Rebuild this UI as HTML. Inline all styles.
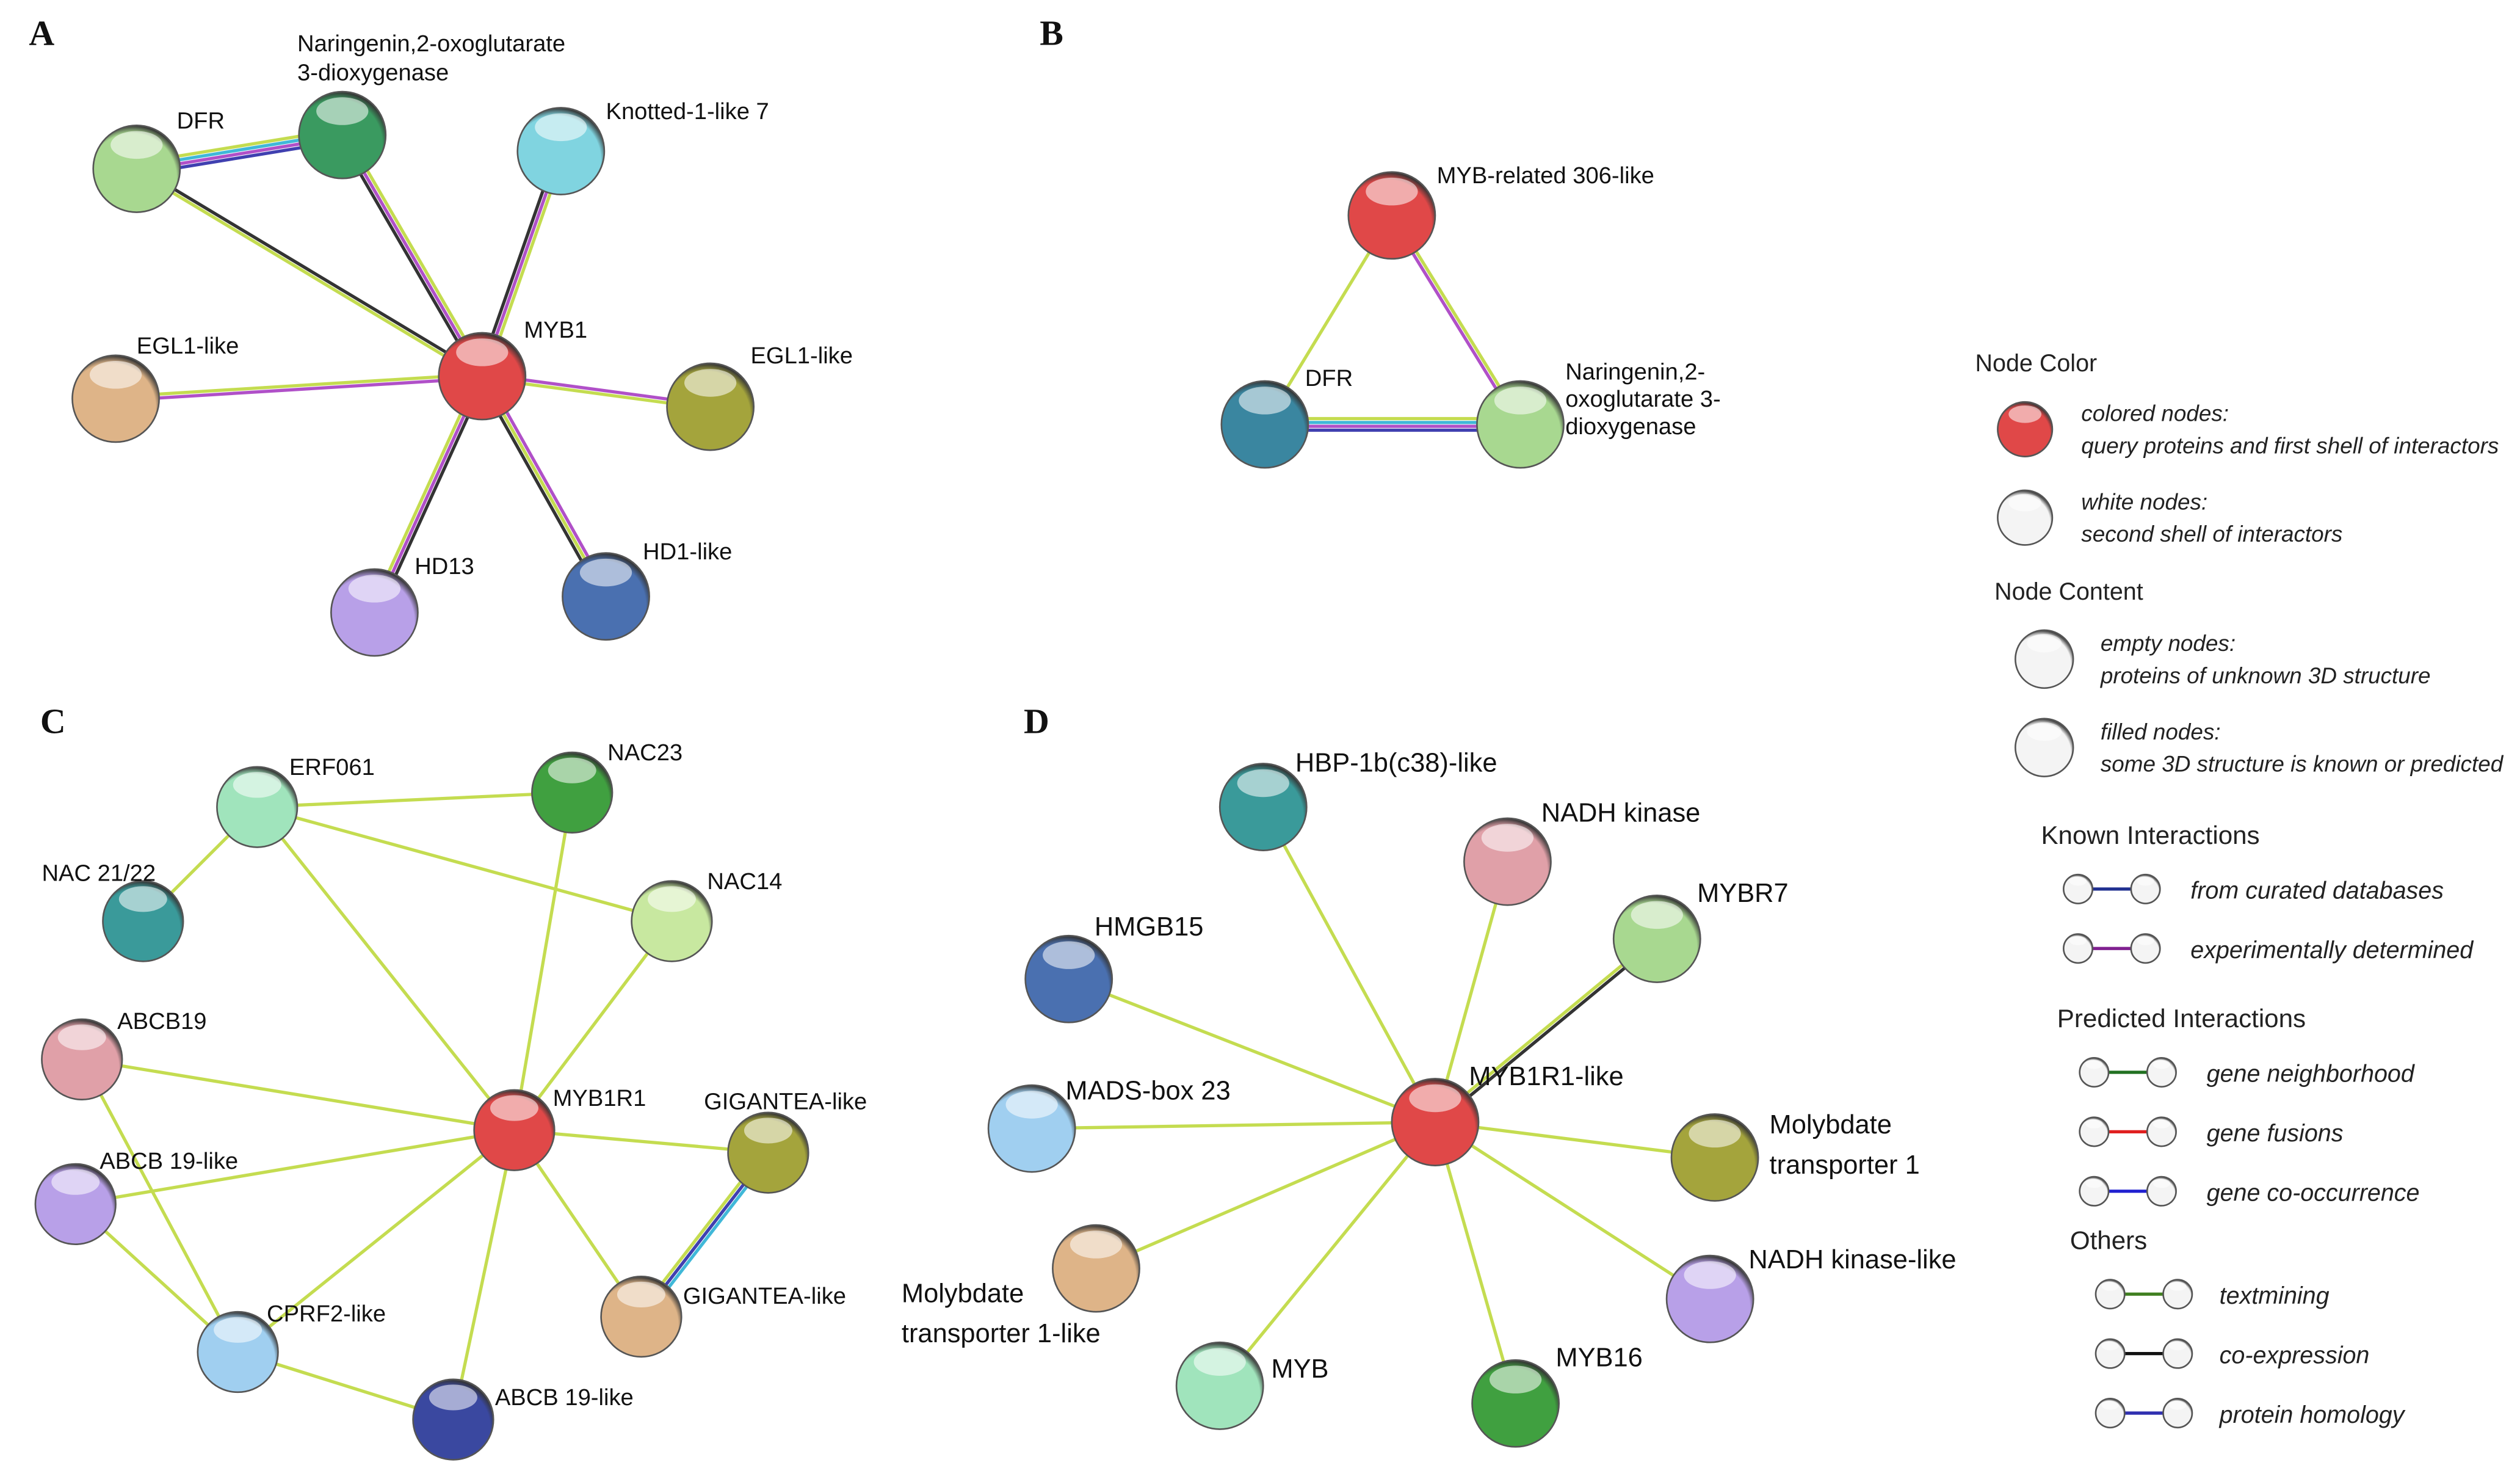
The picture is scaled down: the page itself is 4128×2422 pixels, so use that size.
<!DOCTYPE html>
<html><head><meta charset="utf-8"><style>
html,body{margin:0;padding:0;background:#fff;}
svg{display:block;}
text{font-family:"Liberation Sans",Arial,sans-serif;fill:#111;}
.L{font-family:"Liberation Serif",serif;font-weight:bold;font-size:22px;}
.n{font-size:14.5px;}
.nd{font-size:16.5px;}
.lg{font-size:14px;font-style:italic;fill:#222;}
.lh{font-size:15px;fill:#222;}
</style></head><body>
<svg id="s" width="4128" height="2422" viewBox="0 0 1568 920" preserveAspectRatio="none" xmlns="http://www.w3.org/2000/svg">
<defs id="d"></defs>
<g id="e"></g>
<g id="nodes"></g>
<text class="L" x="18" y="28">A</text>
<text class="L" x="647" y="28">B</text>
<text class="L" x="25" y="456">C</text>
<text class="L" x="637" y="456">D</text>
<text class="n" x="185" y="32">Naringenin,2-oxoglutarate</text>
<text class="n" x="185" y="50">3-dioxygenase</text>
<text class="n" x="110" y="80">DFR</text>
<text class="n" x="377" y="74">Knotted-1-like 7</text>
<text class="n" x="326" y="210">MYB1</text>
<text class="n" x="85" y="220">EGL1-like</text>
<text class="n" x="467" y="226">EGL1-like</text>
<text class="n" x="258" y="357">HD13</text>
<text class="n" x="400" y="348">HD1-like</text>
<text class="n" x="894" y="114">MYB-related 306-like</text>
<text class="n" x="812" y="240">DFR</text>
<text class="n" x="974" y="236">Naringenin,2-</text>
<text class="n" x="974" y="253">oxoglutarate 3-</text>
<text class="n" x="974" y="270">dioxygenase</text>
<text class="n" x="180" y="482">ERF061</text>
<text class="n" x="378" y="473">NAC23</text>
<text class="n" x="26" y="548">NAC 21/22</text>
<text class="n" x="440" y="553">NAC14</text>
<text class="n" x="73" y="640">ABCB19</text>
<text class="n" x="344" y="688">MYB1R1</text>
<text class="n" x="438" y="690">GIGANTEA-like</text>
<text class="n" x="62" y="727">ABCB 19-like</text>
<text class="n" x="166" y="822">CPRF2-like</text>
<text class="n" x="425" y="811">GIGANTEA-like</text>
<text class="n" x="308" y="874">ABCB 19-like</text>
<text class="nd" x="806" y="480">HBP-1b(c38)-like</text>
<text class="nd" x="959" y="511">NADH kinase</text>
<text class="nd" x="1056" y="561">MYBR7</text>
<text class="nd" x="681" y="582">HMGB15</text>
<text class="nd" x="663" y="684">MADS-box 23</text>
<text class="nd" x="914" y="675">MYB1R1-like</text>
<text class="nd" x="1101" y="705">Molybdate</text>
<text class="nd" x="1101" y="730">transporter 1</text>
<text class="nd" x="561" y="810">Molybdate</text>
<text class="nd" x="561" y="835">transporter 1-like</text>
<text class="nd" x="1088" y="789">NADH kinase-like</text>
<text class="nd" x="791" y="857">MYB</text>
<text class="nd" x="968" y="850">MYB16</text>
<text class="lh" x="1229" y="231">Node Color</text>
<text class="lg" x="1295" y="262">colored nodes:</text>
<text class="lg" x="1295" y="282">query proteins and first shell of interactors</text>
<text class="lg" x="1295" y="317">white nodes:</text>
<text class="lg" x="1295" y="337">second shell of interactors</text>
<text class="lh" x="1241" y="373">Node Content</text>
<text class="lg" x="1307" y="405">empty nodes:</text>
<text class="lg" x="1307" y="425">proteins of unknown 3D structure</text>
<text class="lg" x="1307" y="460">filled nodes:</text>
<text class="lg" x="1307" y="480">some 3D structure is known or predicted</text>
<text class="lh" x="1270" y="525" style="font-size:16px">Known Interactions</text>
<text class="lg" x="1363" y="559" style="font-size:15px">from curated databases</text>
<text class="lg" x="1363" y="596" style="font-size:15px">experimentally determined</text>
<text class="lh" x="1280" y="639" style="font-size:16px">Predicted Interactions</text>
<text class="lg" x="1373" y="673" style="font-size:15px">gene neighborhood</text>
<text class="lg" x="1373" y="710" style="font-size:15px">gene fusions</text>
<text class="lg" x="1373" y="747" style="font-size:15px">gene co-occurrence</text>
<text class="lh" x="1288" y="777" style="font-size:16px">Others</text>
<text class="lg" x="1381" y="811" style="font-size:15px">textmining</text>
<text class="lg" x="1381" y="848" style="font-size:15px">co-expression</text>
<text class="lg" x="1381" y="885" style="font-size:15px">protein homology</text>
</svg>
<script>
var NS="http://www.w3.org/2000/svg";
var d=document.getElementById('d'),E=document.getElementById('e'),N=document.getElementById('nodes');
function el(t,a,p){var x=document.createElementNS(NS,t);for(var k in a)x.setAttribute(k,a[k]);(p||N).appendChild(x);return x;}
var cols={red:'#e04848',dg:'#3a9a60',lg:'#a8d890',cy:'#80d4e0',tan:'#deb488',ol:'#a4a43c',pu:'#b8a0e8',bl:'#4a70b0',te:'#3a9a9a',mi:'#a0e4bc',gr:'#40a040',ly:'#c8e8a0',pk:'#e0a0a8',lb:'#a0cff0',db:'#3a48a0',bt:'#3a86a0',wh:'#f4f4f4'};
for(var c in cols){var g=el('radialGradient',{id:'g'+c,cx:'0.45',cy:'0.6',r:'0.6'},d);
el('stop',{offset:'0','stop-color':'#fff','stop-opacity':'0.35'},g);el('stop',{offset:'0','stop-color':cols[c]},g);el('stop',{offset:'0.85','stop-color':cols[c]},g);el('stop',{offset:'1','stop-color':'#333'},g);}
function node(x,y,c,r){r=r||27;el('circle',{cx:x,cy:y,r:r,fill:'url(#g'+c+')',stroke:'#555','stroke-width':1});
el('ellipse',{cx:x,cy:y-r*0.55,rx:r*0.6,ry:r*0.32,fill:'#fff','fill-opacity':0.55});}
function edge(a,b,cs,w){var dx=b[0]-a[0],dy=b[1]-a[1],L=Math.hypot(dx,dy),px=-dy/L,py=dx/L,n=cs.length;w=w||2;
for(var i=0;i<n;i++){var o=(i-(n-1)/2)*w*1.2;el('line',{x1:a[0]+px*o,y1:a[1]+py*o,x2:b[0]+px*o,y2:b[1]+py*o,stroke:cs[i],'stroke-width':w},E);}}
var Y='#c4dc50',P='#b050c8',K='#333',C='#40b8d8',B='#4040b0';
var A={dfr:[85,105],nar:[213,84],kn:[349,94],m:[300,234],el:[72,248],er:[442,253],hd13:[233,381],hd1:[377,371]};
edge(A.dfr,A.nar,[Y,C,P,B]);edge(A.dfr,A.m,[K,Y]);edge(A.nar,A.m,[Y,P,K]);edge(A.kn,A.m,[Y,P,K]);
edge(A.el,A.m,[Y,P]);edge(A.er,A.m,[Y,P]);edge(A.hd13,A.m,[Y,P,K]);edge(A.hd1,A.m,[K,Y,P]);
node(85,105,'lg');node(213,84,'dg');node(349,94,'cy');node(300,234,'red');node(72,248,'tan');node(442,253,'ol');node(233,381,'pu');node(377,371,'bl');
var Bm=[866,134],Bd=[787,264],Bn=[946,264];
edge(Bm,Bd,[Y]);edge(Bm,Bn,[Y,P]);edge(Bd,Bn,[Y,C,P,B]);
node(866,134,'red');node(787,264,'bt');node(946,264,'lg');
var c={erf:[160,502],n23:[356,493],n21:[89,573],n14:[418,573],ab:[51,659],m:[320,703],gi:[478,717],abl:[47,749],cp:[148,841],gi2:[399,819],abb:[282,883]};
var ce=[['erf','n23'],['erf','n14'],['erf','n21'],['erf','m'],['n23','m'],['n14','m'],['ab','m'],['ab','cp'],['abl','m'],['abl','cp'],['cp','m'],['cp','abb'],['gi','m'],['gi2','m'],['abb','m']];
ce.forEach(function(p){edge(c[p[0]],c[p[1]],[Y]);});edge(c.gi,c.gi2,[C,B,Y]);
node(160,502,'mi',25);node(356,493,'gr',25);node(89,573,'te',25);node(418,573,'ly',25);node(51,659,'pk',25);node(320,703,'red',25);node(478,717,'ol',25);node(47,749,'pu',25);node(148,841,'lb',25);node(399,819,'tan',25);node(282,883,'db',25);
var m=[893,698],D=[[786,502,'te'],[938,536,'pk'],[1031,584,'lg'],[665,609,'bl'],[642,702,'lb'],[1067,720,'ol'],[682,789,'tan'],[1064,808,'pu'],[759,862,'mi'],[943,873,'gr']];
D.forEach(function(p,i){edge([p[0],p[1]],m,i==2?[K,Y]:[Y]);});
D.forEach(function(p){node(p[0],p[1],p[2],27);});node(893,698,'red',27);
node(1260,267,'red',17);node(1260,322,'wh',17);node(1272,410,'wh',18);node(1272,465,'wh',18);
function li(x,y,col){el('line',{x1:x,y1:y,x2:x+40,y2:y,stroke:col,'stroke-width':2},E);node(x,y,'wh',9);node(x+42,y,'wh',9);}
li(1293,553,'#203090');li(1293,590,'#802090');li(1303,667,'#207020');li(1303,704,'#e02020');li(1303,741,'#2020d0');li(1313,805,'#408020');li(1313,842,'#111');li(1313,879,'#3030b0');
</script>
</body></html>
